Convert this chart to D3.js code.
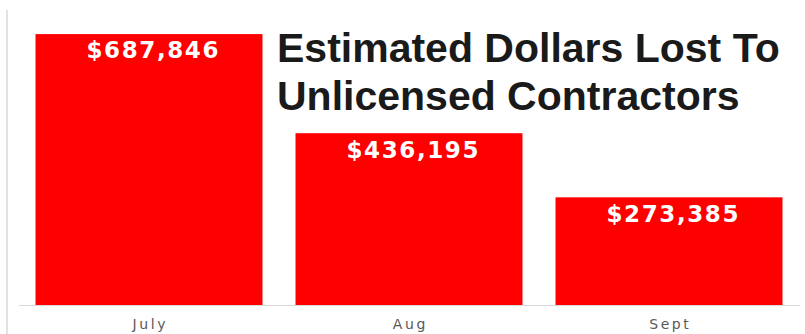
<!DOCTYPE html>
<html>
<head>
<meta charset="utf-8">
<script src="https://cdn.jsdelivr.net/npm/d3@7"></script>
<style>
  html, body { margin: 0; padding: 0; background: #ffffff; }
  svg { display: block; }
</style>
</head>
<body>
<svg id="chart" width="805" height="334"></svg>
<script>
// Monthly estimated losses to unlicensed contractors
const months = ["July", "Aug", "Sept"];
const dollarsLost = [687846, 436195, 273385];
const titleLines = ["Estimated Dollars Lost To", "Unlicensed Contractors"];

const svg = d3.select("#chart");
const W = 805, H = 334;

const x = d3.scaleBand()
  .domain(months)
  .range([19, 799])
  .paddingInner(0.127)
  .paddingOuter(0.0635);

const y = d3.scaleLinear()
  .domain([0, 700000])
  .range([305, 29.3]);

const fmt = d3.format("$,");

// left frame line
svg.append("line")
  .attr("x1", 7).attr("x2", 7)
  .attr("y1", 10).attr("y2", H)
  .attr("stroke", "#d9d9d9")
  .attr("stroke-width", 1.5);

// bars
svg.append("g").selectAll("rect")
  .data(months)
  .join("rect")
  .attr("x", d => x(d))
  .attr("width", x.bandwidth())
  .attr("y", (d, i) => y(dollarsLost[i]))
  .attr("height", (d, i) => y(0) - y(dollarsLost[i]))
  .attr("fill", "#ff0000");

// category axis
const xAxis = svg.append("g")
  .attr("transform", `translate(0,${y(0)})`)
  .call(d3.axisBottom(x).tickSize(0).tickPadding(0));
xAxis.select(".domain").remove();
xAxis.selectAll("text")
  .attr("y", 23.5)
  .attr("dy", 0)
  .attr("dx", 1.3)
  .attr("fill", "#595959")
  .style("font-family", "'DejaVu Sans', sans-serif")
  .style("font-size", "14px")
  .style("letter-spacing", "2.6px");

svg.append("line")
  .attr("x1", 19).attr("x2", 800)
  .attr("y1", y(0) + 0.5).attr("y2", y(0) + 0.5)
  .attr("stroke", "#d9d9d9")
  .attr("stroke-width", 1);

// value labels inside bar tops
svg.append("g").selectAll("text")
  .data(months)
  .join("text")
  .attr("x", d => x(d) + x.bandwidth() / 2 + 4.3)
  .attr("y", (d, i) => y(dollarsLost[i]) + 24.3)
  .attr("text-anchor", "middle")
  .attr("fill", "#ffffff")
  .style("font-family", "'DejaVu Sans', sans-serif")
  .style("font-weight", "bold")
  .style("font-size", "23px")
  .style("letter-spacing", "1.6px")
  .text((d, i) => fmt(dollarsLost[i]));

// title
svg.append("g").selectAll("text")
  .data(titleLines)
  .join("text")
  .attr("x", 277)
  .attr("y", (d, i) => 62 + i * 48)
  .attr("fill", "#1a1a1a")
  .style("font-family", "'Liberation Sans', Arial, sans-serif")
  .style("font-weight", "bold")
  .style("font-size", "41px")
  .text(d => d);
</script>
</body>
</html>
